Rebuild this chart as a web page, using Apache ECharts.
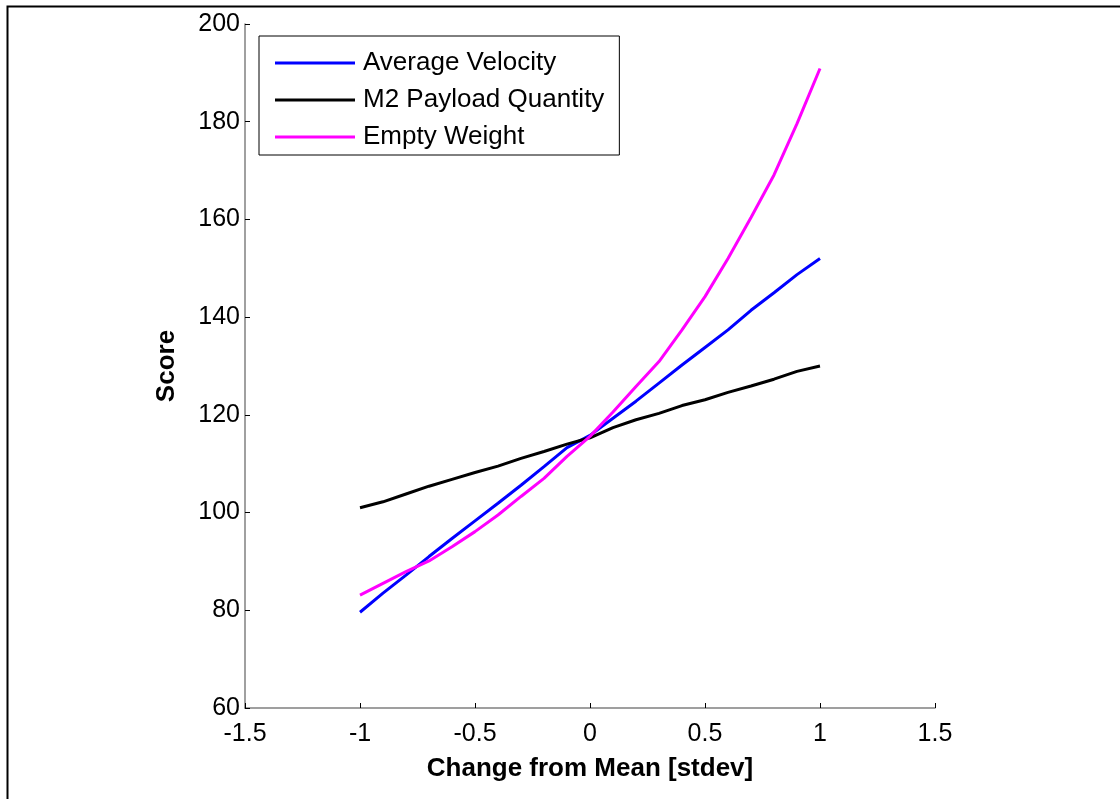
<!DOCTYPE html>
<html>
<head>
<meta charset="utf-8">
<script src="https://cdn.jsdelivr.net/npm/echarts@6/dist/echarts.min.js"></script>
<style>
html,body{margin:0;padding:0;background:#fff;}
#chart{width:1120px;height:799px;}
</style>
</head>
<body>
<div id="chart"></div>
<script>
var xValues = [-1.0,-0.9,-0.8,-0.7,-0.6,-0.5,-0.4,-0.3,-0.2,-0.1,0.0,0.1,0.2,0.3,0.4,0.5,0.6,0.7,0.8,0.9,1.0];
var averageVelocity = [79.6,83.5,87.2,91.0,94.7,98.3,101.9,105.6,109.4,113.3,115.8,119.3,122.8,126.5,130.2,133.8,137.4,141.4,145.0,148.7,152.0];
var m2PayloadQuantity = [101.0,102.2,103.8,105.4,106.8,108.2,109.5,111.1,112.5,114.0,115.3,117.4,119.0,120.3,121.9,123.1,124.6,125.9,127.3,128.9,130.0];
var emptyWeight = [83.1,85.5,87.9,90.1,93.0,96.1,99.5,103.3,107.0,111.5,115.6,120.6,125.8,130.9,137.4,144.2,152.0,160.4,169.1,179.6,190.9];
var seriesNames = ['Average Velocity','M2 Payload Quantity','Empty Weight'];
var seriesColors = ['#0000ff','#000000','#ff00ff'];
var xTickLabels = ['-1.5','-1','-0.5','0','0.5','1','1.5'];

function pairs(ys){ return xValues.map(function(x,i){ return [x, ys[i]]; }); }
var allData = [averageVelocity, m2PayloadQuantity, emptyWeight];

var chart = echarts.init(document.getElementById('chart'), null, {renderer:'canvas'});
var font = "'Liberation Sans', Arial, sans-serif";
chart.setOption({
  animation:false,
  backgroundColor:'#ffffff',
  grid:{left:245, right:185, top:24, bottom:91, containLabel:false},
  legend:{
    orient:'vertical', left:259, top:36,
    padding:[14,15,5,16],
    itemGap:11, itemWidth:80, itemHeight:3,
    icon:'rect',
    borderColor:'#000', borderWidth:1,
    backgroundColor:'#fff',
    textStyle:{fontFamily:font, fontSize:26, color:'#000', padding:[0,0,0,3]},
    data:seriesNames
  },
  xAxis:{
    type:'value', min:-1.5, max:1.5, interval:0.5,
    name:'Change from Mean [stdev]', nameLocation:'middle', nameGap:48,
    nameTextStyle:{fontFamily:font, fontSize:26, fontWeight:'bold', color:'#000'},
    axisLine:{show:true, onZero:false, lineStyle:{color:'#808080', width:1.5}},
    axisTick:{show:true, inside:true, length:5, lineStyle:{color:'#000', width:1}},
    axisLabel:{fontFamily:font, fontSize:25, color:'#000', margin:14,
      formatter:function(v){ var i=Math.round((v+1.5)/0.5); return xTickLabels[i]!==undefined?xTickLabels[i]:String(v); }},
    splitLine:{show:false}
  },
  yAxis:{
    type:'value', min:60, max:200, interval:20,
    name:'Score', nameLocation:'middle', nameGap:65,
    nameTextStyle:{fontFamily:font, fontSize:26, fontWeight:'bold', color:'#000'},
    axisLine:{show:true, onZero:false, lineStyle:{color:'#808080', width:1.5}},
    axisTick:{show:true, inside:true, length:5, lineStyle:{color:'#000', width:1}},
    axisLabel:{fontFamily:font, fontSize:25, color:'#000', margin:5},
    splitLine:{show:false}
  },
  graphic:[
    {type:'polyline', shape:{points:[[7.5,799],[7.5,6.5],[1120,6.5]]}, style:{stroke:'#000', lineWidth:2, fill:null}, silent:true}
  ],
  series: seriesNames.map(function(n,i){
    return {name:n, type:'line', data:pairs(allData[i]), showSymbol:false, symbol:'none',
      lineStyle:{color:seriesColors[i], width:3}, itemStyle:{color:seriesColors[i]}};
  })
});
</script>
</body>
</html>
